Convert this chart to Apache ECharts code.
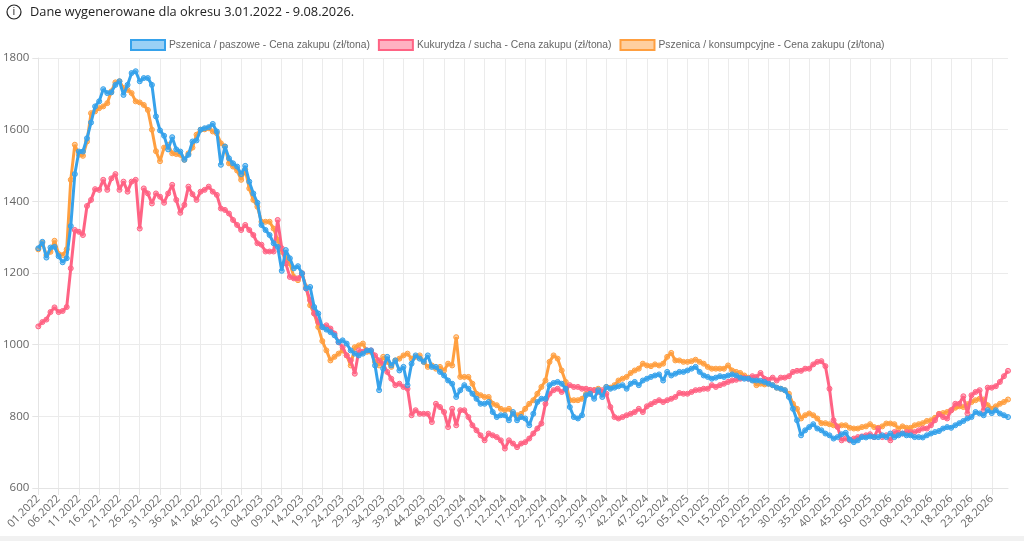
<!DOCTYPE html>
<html>
<head>
<meta charset="utf-8">
<script src="https://cdn.jsdelivr.net/npm/echarts@6/dist/echarts.min.js"></script>
<style>
html,body{margin:0;padding:0;background:#fff;}
#chart{width:1024px;height:541px;}
</style>
</head>
<body>
<div id="chart"></div>
<script>
// Tick/category labels: ISO weeks 01.2022 .. 32.2026
const weeksPerYear = [[2022,52],[2023,52],[2024,52],[2025,52],[2026,32]];
const categories = [];
weeksPerYear.forEach(function(p){ for(let w=1; w<=p[1]; w++){ categories.push((w<10?'0':'')+w+'.'+p[0]); } });

const seriesNames = [
  'Pszenica / paszowe - Cena zakupu (zł/tona)',
  'Kukurydza / sucha - Cena zakupu (zł/tona)',
  'Pszenica / konsumpcyjne - Cena zakupu (zł/tona)'
];

const pszenicaPaszowe = [
1269,1287,1243,1271,1273,1247,1230,1241,1331,1476,1539,1539,1576,1620,1665,1679,1713,1702,1704,1725,1735,1697,1725,1758,1763,1735,1744,1744,1725,1637,1598,1583,1545,1579,1545,1539,1516,1530,1567,1570,1600,
1604,1607,1616,1595,1502,1553,1520,1506,1497,1476,1499,1455,1422,1396,1334,1320,1306,1283,1273,1206,1264,1241,1213,1219,1199,1157,1161,1105,1087,1049,
1042,1035,1026,1007,1012,1003,984,975,970,975,984,984,942,873,933,966,942,956,928,938,887,947,970,961,952,970,938,938,924,914,900,891,854,873,887,877,863,849,835,835,
840,812,798,803,803,789,812,789,798,794,775,807,840,849,849,887,893,896,891,877,826,798,794,803,859,863,849,873,854,882,877,880,884,887,877,891,896,887,900,905,
910,914,917,900,924,914,919,924,924,928,933,938,924,914,910,905,908,912,910,914,917,914,908,905,905,900,900,899,896,891,887,880,877,873,854,821,789,747,761,
770,778,766,761,752,747,738,742,750,754,735,728,733,742,741,744,742,742,747,742,752,742,747,752,747,747,742,742,741,747,752,756,759,766,770,768,775,781,787,794,798,812,808,803,817,809,817,808,803,798
];

const kukurydzaSucha = [
1051,1063,1070,1091,1104,1091,1094,1105,1213,1320,1315,1306,1387,1404,1434,1432,1460,1432,1464,1476,1432,1455,1427,1455,1460,1324,1436,1422,1394,1422,1413,1396,1422,1446,1404,1368,1390,1441,1420,1404,1427,
1432,1441,1427,1418,1380,1376,1366,1348,1334,1320,1334,1320,1306,1283,1279,1260,1260,1260,1348,1269,1227,1189,1185,1185,1199,1157,1124,1087,1063,1049,
1054,1045,1031,1007,993,970,956,919,984,980,984,984,970,956,947,924,905,887,891,882,877,803,817,807,807,807,784,835,826,812,770,821,775,817,817,798,775,761,747,733,
752,747,742,733,710,733,724,714,724,728,738,752,766,780,835,863,873,877,868,877,887,882,882,877,877,874,873,868,873,863,826,798,794,798,803,807,812,821,812,828,
834,840,845,840,845,849,854,865,863,863,868,873,874,877,877,887,882,887,891,896,900,902,905,908,905,912,910,921,905,902,908,900,908,908,912,924,927,927,933,
933,945,952,954,940,877,789,770,733,738,733,738,742,744,747,750,742,766,742,747,733,756,754,752,756,756,756,761,766,766,775,789,806,798,794,817,835,835,856,808,859,868,873,817,880,880,884,896,912,927
];

const pszenicaKonsumpcyjne = [
1266,1284,1250,1259,1290,1253,1250,1266,1460,1558,1530,1527,1567,1646,1651,1660,1665,1674,1707,1732,1735,1716,1711,1702,1679,1676,1669,1655,1600,1540,1512,1550,1558,1534,1532,1530,1516,1534,1550,1586,1600,
1601,1604,1595,1590,1562,1553,1506,1497,1486,1460,1488,1436,1404,1385,1343,1343,1343,1324,1292,1259,1245,1227,1189,1180,1199,1161,1110,1087,1049,1010,
984,956,966,975,984,970,942,993,998,1003,980,980,952,942,966,952,938,956,961,970,975,961,966,970,952,938,942,933,938,928,947,942,1021,910,910,910,891,863,859,854,
854,835,831,821,817,821,807,803,807,821,835,845,863,882,900,952,970,961,928,896,845,845,845,849,863,863,873,877,868,882,880,887,900,905,910,921,928,933,947,942,
940,945,942,947,966,977,956,956,952,952,954,958,952,947,938,933,933,933,933,942,928,924,921,914,908,902,887,891,889,891,887,880,877,873,863,835,821,794,803,
808,803,794,781,781,778,775,772,775,775,768,766,766,770,772,778,770,768,772,780,780,778,766,772,768,768,775,778,781,787,789,796,807,809,812,817,824,828,826,834,840,845,849,847,831,821,828,835,840,847
];

const yTicks = { min: 600, max: 1800, step: 200 };
const colors = ['#36a2eb', '#ff6384', '#ff9f40'];
const fills = ['rgba(54,162,235,0.5)', 'rgba(255,99,132,0.5)', 'rgba(255,159,64,0.5)'];
const seriesData = [pszenicaPaszowe, kukurydzaSucha, pszenicaKonsumpcyjne];
const zOrder = [5, 4, 3];

const FONT = '"Open Sans", "DejaVu Sans", sans-serif';
const LFONT = '"Liberation Sans", Arial, sans-serif';
const chart = echarts.init(document.getElementById('chart'), null, { renderer: 'canvas' });

chart.setOption({
  animation: false,
  backgroundColor: '#ffffff',
  textStyle: { fontFamily: FONT },
  graphic: [
    { type: 'circle', shape: { cx: 14, cy: 12, r: 7 }, style: { fill: 'none', stroke: '#222', lineWidth: 1.2 } },
    { type: 'text', x: 14, y: 12, style: { text: 'i', fill: '#222', font: '11px ' + FONT, align: 'center', verticalAlign: 'middle' } },
    { type: 'text', x: 30, y: 12, style: { text: 'Dane wygenerowane dla okresu 3.01.2022 - 9.08.2026.', fill: '#222', font: '12.8px ' + FONT, verticalAlign: 'middle' } },
    { type: 'rect', shape: { x: 0, y: 536, width: 1024, height: 5 }, style: { fill: '#f1f1f1' } }
  ],
  legend: {
    top: 39,
    left: 130,
    padding: 0,
    icon: 'rect',
    itemWidth: 34,
    itemHeight: 10,
    itemGap: 8,
    textStyle: { fontSize: 10.3, color: '#666', fontFamily: LFONT, padding: [0, 0, 0, -1] },
    data: seriesNames.map(function(n, i){
      return { name: n, itemStyle: { color: fills[i], borderColor: colors[i], borderWidth: 2 } };
    })
  },
  grid: { left: 36, right: 16, top: 58, bottom: 53 },
  xAxis: {
    type: 'category',
    boundaryGap: false,
    data: categories,
    axisLine: { show: true, lineStyle: { color: '#e4e4e4' } },
    axisTick: { show: true, interval: 4, length: 7, lineStyle: { color: '#e4e4e4' } },
    axisLabel: { interval: 4, rotate: 45, fontSize: 11, color: '#666', margin: 9, fontFamily: FONT },
    splitLine: { show: true, interval: 4, lineStyle: { color: '#ebebeb' } }
  },
  yAxis: {
    type: 'value',
    min: yTicks.min,
    max: yTicks.max,
    interval: yTicks.step,
    axisLine: { show: true, lineStyle: { color: '#e4e4e4' } },
    axisTick: { show: true, length: 6, lineStyle: { color: '#e4e4e4' } },
    axisLabel: { fontSize: 11.5, color: '#666', margin: 9, fontFamily: FONT, formatter: function(v){ return String(v); } },
    splitLine: { show: true, lineStyle: { color: '#ebebeb' } }
  },
  series: seriesNames.map(function(n, i){
    return {
      name: n,
      type: 'line',
      data: seriesData[i],
      z: zOrder[i],
      showSymbol: true,
      showAllSymbol: true,
      symbol: 'circle',
      symbolSize: 5,
      smooth: false,
      lineStyle: { color: colors[i], width: 3 },
      itemStyle: { color: fills[i], borderColor: colors[i], borderWidth: 1 },
      emphasis: { disabled: true }
    };
  })
});
</script>
</body>
</html>
